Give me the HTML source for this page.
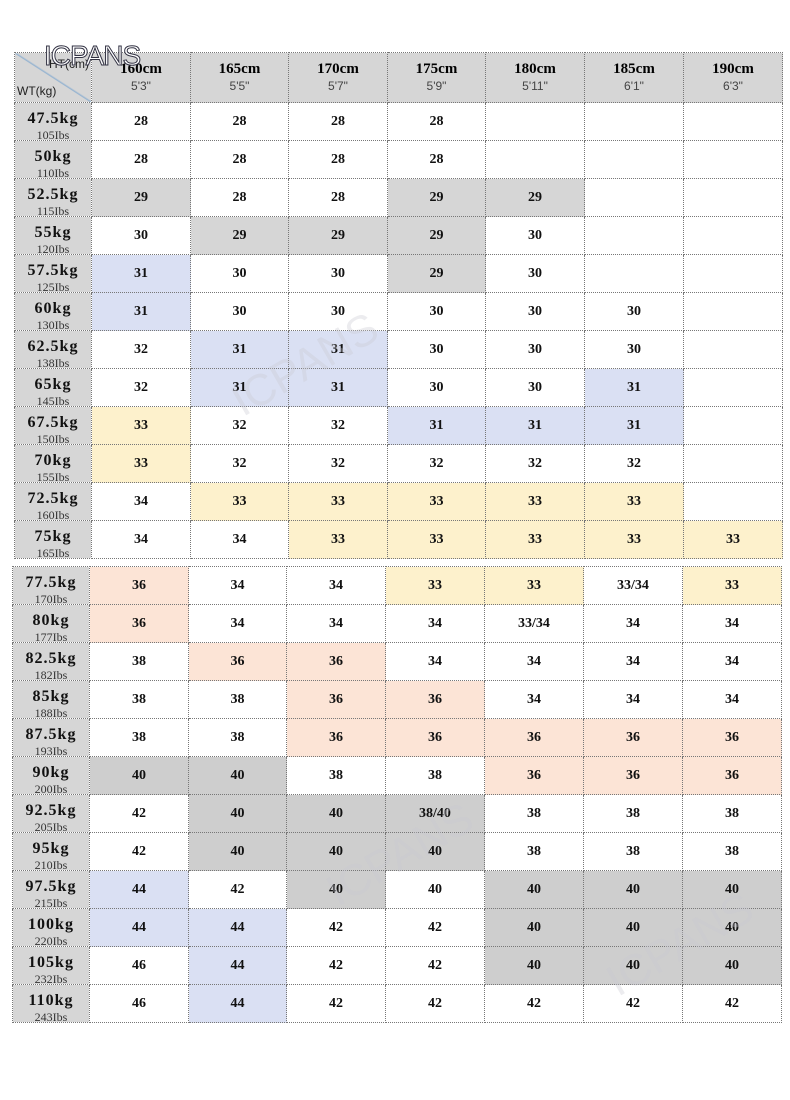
<!DOCTYPE html>
<html><head><meta charset="utf-8"><style>
body{margin:0;width:790px;height:1100px;background:#fff;position:relative;overflow:hidden;font-family:"Liberation Serif","Noto Serif CJK SC",serif;}
table{position:absolute;border-collapse:collapse;table-layout:fixed;}
td{border:1px dotted #777;text-align:center;vertical-align:middle;padding:0;font-weight:bold;font-size:14px;color:#111;height:37px;}
td.l{background:#d6d6d6;position:relative;line-height:1;}
td.l b{display:block;font-size:16px;letter-spacing:1px;margin-top:-6px}
td.l i{position:absolute;bottom:-1px;left:0;right:0;font-style:normal;font-weight:normal;font-size:12px;color:#333}
.g{background:#d6d6d6}.G{background:#cecece}.b{background:#dae0f3}.y{background:#fdf1cc}.p{background:#fce4d6}
th{background:#d6d6d6;border:1px dotted #777;height:49px;font-size:15px;padding:0;line-height:1.3}
th span{display:block;font-weight:normal;font-size:12px;color:#444;font-family:"Liberation Sans",sans-serif}
.wm{position:absolute;font-family:"Liberation Sans",sans-serif;color:rgba(200,200,210,.35);font-size:44px;transform:rotate(-30deg);}
</style></head><body>
<table style="left:14px;top:52px;width:768px">
<colgroup><col style="width:77px"><col style="width:99px"><col style="width:98px"><col style="width:99px"><col style="width:98px"><col style="width:99px"><col style="width:99px"><col style="width:99px"></colgroup>
<tr><th style="position:relative;background:linear-gradient(to top right,#d6d6d6 49%,#8fb0d0 50%,#d6d6d6 52%)"><span style="position:absolute;left:2px;bottom:2px;color:#222">WT(kg)</span><span style="position:absolute;right:2px;top:4px;color:#222">HT(cm)</span></th>
<th>160cm<span>5'3"</span></th><th>165cm<span>5'5"</span></th><th>170cm<span>5'7"</span></th><th>175cm<span>5'9"</span></th><th>180cm<span>5'11"</span></th><th>185cm<span>6'1"</span></th><th>190cm<span>6'3"</span></th></tr>
<tr><td class="l"><b>47.5kg</b><i>105Ibs</i></td><td>28</td><td>28</td><td>28</td><td>28</td><td></td><td></td><td></td></tr>
<tr><td class="l"><b>50kg</b><i>110Ibs</i></td><td>28</td><td>28</td><td>28</td><td>28</td><td></td><td></td><td></td></tr>
<tr><td class="l"><b>52.5kg</b><i>115Ibs</i></td><td class="g">29</td><td>28</td><td>28</td><td class="g">29</td><td class="g">29</td><td></td><td></td></tr>
<tr><td class="l"><b>55kg</b><i>120Ibs</i></td><td>30</td><td class="g">29</td><td class="g">29</td><td class="g">29</td><td>30</td><td></td><td></td></tr>
<tr><td class="l"><b>57.5kg</b><i>125Ibs</i></td><td class="b">31</td><td>30</td><td>30</td><td class="g">29</td><td>30</td><td></td><td></td></tr>
<tr><td class="l"><b>60kg</b><i>130Ibs</i></td><td class="b">31</td><td>30</td><td>30</td><td>30</td><td>30</td><td>30</td><td></td></tr>
<tr><td class="l"><b>62.5kg</b><i>138Ibs</i></td><td>32</td><td class="b">31</td><td class="b">31</td><td>30</td><td>30</td><td>30</td><td></td></tr>
<tr><td class="l"><b>65kg</b><i>145Ibs</i></td><td>32</td><td class="b">31</td><td class="b">31</td><td>30</td><td>30</td><td class="b">31</td><td></td></tr>
<tr><td class="l"><b>67.5kg</b><i>150Ibs</i></td><td class="y">33</td><td>32</td><td>32</td><td class="b">31</td><td class="b">31</td><td class="b">31</td><td></td></tr>
<tr><td class="l"><b>70kg</b><i>155Ibs</i></td><td class="y">33</td><td>32</td><td>32</td><td>32</td><td>32</td><td>32</td><td></td></tr>
<tr><td class="l"><b>72.5kg</b><i>160Ibs</i></td><td>34</td><td class="y">33</td><td class="y">33</td><td class="y">33</td><td class="y">33</td><td class="y">33</td><td></td></tr>
<tr><td class="l"><b>75kg</b><i>165Ibs</i></td><td>34</td><td>34</td><td class="y">33</td><td class="y">33</td><td class="y">33</td><td class="y">33</td><td class="y">33</td></tr>
</table>
<table style="left:12px;top:566px;width:769px">
<colgroup><col style="width:77px"><col style="width:99px"><col style="width:98px"><col style="width:99px"><col style="width:99px"><col style="width:99px"><col style="width:99px"><col style="width:99px"></colgroup>
<tr><td class="l"><b>77.5kg</b><i>170Ibs</i></td><td class="p">36</td><td>34</td><td>34</td><td class="y">33</td><td class="y">33</td><td>33/34</td><td class="y">33</td></tr>
<tr><td class="l"><b>80kg</b><i>177Ibs</i></td><td class="p">36</td><td>34</td><td>34</td><td>34</td><td>33/34</td><td>34</td><td>34</td></tr>
<tr><td class="l"><b>82.5kg</b><i>182Ibs</i></td><td>38</td><td class="p">36</td><td class="p">36</td><td>34</td><td>34</td><td>34</td><td>34</td></tr>
<tr><td class="l"><b>85kg</b><i>188Ibs</i></td><td>38</td><td>38</td><td class="p">36</td><td class="p">36</td><td>34</td><td>34</td><td>34</td></tr>
<tr><td class="l"><b>87.5kg</b><i>193Ibs</i></td><td>38</td><td>38</td><td class="p">36</td><td class="p">36</td><td class="p">36</td><td class="p">36</td><td class="p">36</td></tr>
<tr><td class="l"><b>90kg</b><i>200Ibs</i></td><td class="G">40</td><td class="G">40</td><td>38</td><td>38</td><td class="p">36</td><td class="p">36</td><td class="p">36</td></tr>
<tr><td class="l"><b>92.5kg</b><i>205Ibs</i></td><td>42</td><td class="G">40</td><td class="G">40</td><td class="G">38/40</td><td>38</td><td>38</td><td>38</td></tr>
<tr><td class="l"><b>95kg</b><i>210Ibs</i></td><td>42</td><td class="G">40</td><td class="G">40</td><td class="G">40</td><td>38</td><td>38</td><td>38</td></tr>
<tr><td class="l"><b>97.5kg</b><i>215Ibs</i></td><td class="b">44</td><td>42</td><td class="G">40</td><td>40</td><td class="G">40</td><td class="G">40</td><td class="G">40</td></tr>
<tr><td class="l"><b>100kg</b><i>220Ibs</i></td><td class="b">44</td><td class="b">44</td><td>42</td><td>42</td><td class="G">40</td><td class="G">40</td><td class="G">40</td></tr>
<tr><td class="l"><b>105kg</b><i>232Ibs</i></td><td>46</td><td class="b">44</td><td>42</td><td>42</td><td class="G">40</td><td class="G">40</td><td class="G">40</td></tr>
<tr><td class="l"><b>110kg</b><i>243Ibs</i></td><td>46</td><td class="b">44</td><td>42</td><td>42</td><td>42</td><td>42</td><td>42</td></tr>
</table>
<div style="position:absolute;left:44px;top:40px;font-family:'Liberation Sans',sans-serif;font-size:28px;color:#fff;-webkit-text-stroke:1px #334;letter-spacing:-1px">ICPANS</div>
<div class="wm" style="left:225px;top:340px">ICPANS</div>
<div class="wm" style="left:320px;top:830px">ICPANS</div>
<div class="wm" style="left:600px;top:920px">ICPANS</div>
</body></html>
